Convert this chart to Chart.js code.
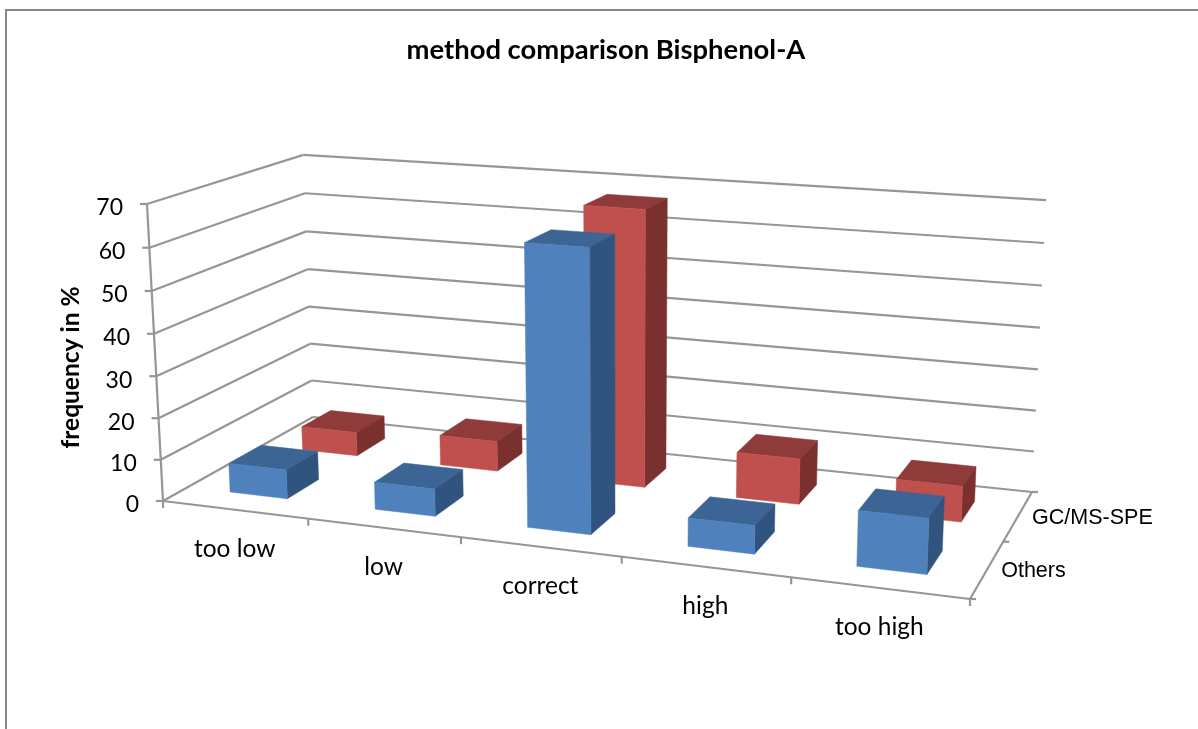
<!DOCTYPE html>
<html><head><meta charset="utf-8">
<style>html,body{margin:0;padding:0;background:#fff}canvas{display:block}</style>
<script src="https://cdn.jsdelivr.net/npm/chart.js@4/dist/chart.umd.min.js"></script>
</head><body>
<canvas id="c" width="1198" height="729"></canvas>
<script>
const categories = ['too low','low','correct','high','too high'];
const seriesNames = ['Others','GC/MS-SPE'];
const othersValues = [7, 6.5, 65, 6.5, 12.5];
const gcmsValues = [6, 7.5, 67, 11, 8.5];
const yTicks = {min:0,max:70,step:10};
const yAxisTitle = 'frequency in %';

/* perspective frame: floor quad (front-left, front-right, back-right, back-left), vertical vanishing point, front-left wall top */
const FLOOR = [[163,501],[970,599],[1032,492],[313,417]];
const VP = [623,9033];
const FRONT_TOP_Y = 204;
const DEPTH = [[0.15,0.36],[0.635,0.845]];
const BAR_STYLE = [
  {front:'#4f81bd',top:'#3c6495',side:'#31547f'},
  {front:'#c0504d',top:'#8e3b3a',side:'#7a302e'}
];
const GRID='#969696', TEXT='#000';

function projector(q){
  const [[x0,y0],[x1,y1],[x2,y2],[x3,y3]]=q;
  const dx1=x1-x2,dx2=x3-x2,sx=x0-x1+x2-x3,dy1=y1-y2,dy2=y3-y2,sy=y0-y1+y2-y3;
  const den=dx1*dy2-dx2*dy1;
  const g=(sx*dy2-dx2*sy)/den,h=(dx1*sy-sx*dy1)/den;
  const a=x1-x0+g*x1,b=x3-x0+h*x3,d=y1-y0+g*y1,e=y3-y0+h*y3;
  const k=-(y0-FRONT_TOP_Y)/(VP[1]-FRONT_TOP_Y);
  return (u,t,v)=>{
    const w=g*u+h*t+1+k*v;
    return [(a*u+b*t+x0+k*v*VP[0])/w,(d*u+e*t+y0+k*v*VP[1])/w+(1.5+0.5*u)*t*v];
  };
}
const P=projector(FLOOR);
function poly(ctx,pts,fill){ctx.beginPath();pts.forEach((p,i)=>i?ctx.lineTo(p[0],p[1]):ctx.moveTo(p[0],p[1]));ctx.closePath();ctx.fillStyle=fill;ctx.fill();ctx.strokeStyle=fill;ctx.lineWidth=0.5;ctx.stroke();}
function seg(ctx,a,b){ctx.beginPath();ctx.moveTo(a[0],a[1]);ctx.lineTo(b[0],b[1]);ctx.stroke();}

const frame3d={
  id:'frame3d',
  beforeDraw(chart){
    const ctx=chart.ctx;
    ctx.save();
    ctx.fillStyle='#fff';ctx.fillRect(0,0,chart.width,chart.height);
    ctx.fillStyle='#868686';
    ctx.fillRect(5,9,chart.width-5,2);
    ctx.fillRect(5,9,2,chart.height-9);
    ctx.restore();
  },
  beforeDatasetsDraw(chart){
    const ctx=chart.ctx,xs=chart.scales.x,ys=chart.scales.y;
    const h=ys.bottom-ys.top;
    ctx.save();
    ctx.strokeStyle=GRID;ctx.lineWidth=2.2;ctx.lineCap='butt';
    ctx.fillStyle=TEXT;ctx.font='23px Lato';ctx.textAlign='right';ctx.textBaseline='middle';
    ys.ticks.forEach(t=>{
      const v=(ys.bottom-ys.getPixelForValue(t.value))/h;
      const a=P(0,0,v),b=P(0,1,v),c=P(1,1,v);
      seg(ctx,a,b);seg(ctx,b,c);
      seg(ctx,[a[0]-7,a[1]],a);
      ctx.fillText(String(t.value),a[0]-24,a[1]+4);
    });
    seg(ctx,P(0,0,0),P(0,0,1));
    seg(ctx,P(0,0,0),P(1,0,0));
    seg(ctx,P(1,0,0),P(1,1,0));
    const n=categories.length;
    for(let i=0;i<=n;i++){const p=P(i/n,0,0);seg(ctx,p,[p[0],p[1]+7]);}
    ctx.font='24.5px Lato';ctx.textAlign='center';
    categories.forEach((c,i)=>{
      const u=(xs.getPixelForValue(i)-xs.left)/(xs.right-xs.left);
      const p=P(u,0,0);
      ctx.fillText(c,p[0],p[1]+39.5);
    });
    for(let i=0;i<=seriesNames.length;i++){const p=P(1,i/seriesNames.length,0);seg(ctx,p,[p[0]+6,p[1]]);}
    ctx.font='21.5px "Liberation Sans"';ctx.textAlign='left';
    seriesNames.forEach((s,i)=>{
      const p=P(1,(i+0.5)/seriesNames.length,0);
      ctx.fillText(s,p[0]+14,p[1]+2);
    });
    ctx.save();
    ctx.translate(71,(ys.top+ys.bottom)/2+15);
    ctx.rotate(-Math.PI/2);
    ctx.textAlign='center';ctx.font='bold 24.5px Lato';
    ctx.fillText(yAxisTitle,0,0);
    ctx.restore();
    ctx.restore();
  },
  beforeDatasetDraw(chart,args){
    const ctx=chart.ctx,xs=chart.scales.x,ys=chart.scales.y;
    const w=xs.right-xs.left,h=ys.bottom-ys.top;
    const st=BAR_STYLE[args.index],[d0,d1]=DEPTH[args.index];
    ctx.save();
    args.meta.data.forEach(el=>{
      const p=el.getProps(['x','y','base','width'],true);
      const u0=(p.x-p.width/2-xs.left)/w,u1=(p.x+p.width/2-xs.left)/w,v=(p.base-p.y)/h;
      poly(ctx,[P(u0,d0,v),P(u1,d0,v),P(u1,d1,v),P(u0,d1,v)],st.top);
      poly(ctx,[P(u1,d0,0),P(u1,d1,0),P(u1,d1,v),P(u1,d0,v)],st.side);
      poly(ctx,[P(u0,d0,0),P(u1,d0,0),P(u1,d0,v),P(u0,d0,v)],st.front);
    });
    ctx.restore();
    return false;
  }
};

new Chart(document.getElementById('c'),{
  type:'bar',
  plugins:[frame3d],
  data:{labels:categories,datasets:[
    {label:seriesNames[0],data:othersValues,backgroundColor:BAR_STYLE[0].front},
    {label:seriesNames[1],data:gcmsValues,backgroundColor:BAR_STYLE[1].front}
  ]},
  options:{
    responsive:false,animation:false,
    datasets:{bar:{grouped:false,categoryPercentage:1,barPercentage:0.4}},
    layout:{padding:{left:50,right:36,top:0,bottom:218}},
    plugins:{
      legend:{display:false},tooltip:{enabled:false},
      title:{display:true,text:'method comparison Bisphenol-A',color:TEXT,
        font:{family:'Lato',size:27.4,weight:'bold'},padding:{top:34,bottom:137.1}}
    },
    scales:{
      x:{ticks:{display:false},grid:{display:false},border:{display:false},
         afterFit(s){s.height=10;}},
      y:{min:yTicks.min,max:yTicks.max,ticks:{display:false,stepSize:yTicks.step},grid:{display:false},border:{display:false},
         afterFit(s){s.width=113;}}
    }
  }
});
</script>
</body></html>
